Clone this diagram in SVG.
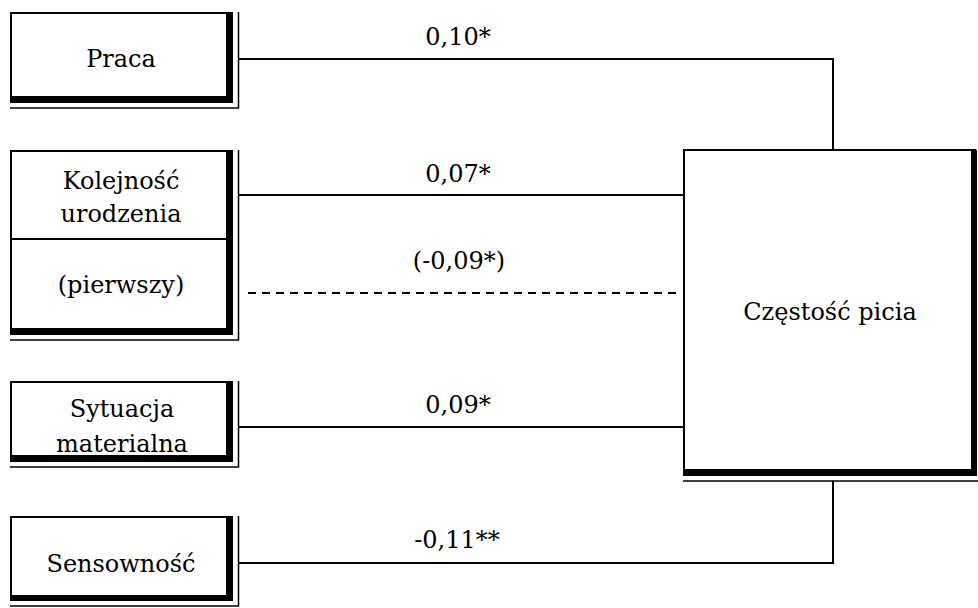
<svg xmlns="http://www.w3.org/2000/svg" width="978" height="608" viewBox="0 0 978 608">
<style>
.frame{fill:#fff;stroke:#000;stroke-width:2}
.shadow{fill:#000}
.outer{fill:none;stroke:#000;stroke-width:1.5}
.conn{fill:none;stroke:#000;stroke-width:2}
.dash{fill:none;stroke:#000;stroke-width:2;stroke-dasharray:8 6}
.t{font-family:'DejaVu Serif',serif;font-size:24px;fill:#000;text-anchor:middle}
</style>
<rect width="978" height="608" fill="#fff"/>
<g id="connectors">
<polyline class="conn" points="239,59 833,59 833,150"/>
<line class="conn" x1="239" y1="195" x2="684" y2="195"/>
<line class="dash" x1="248" y1="293" x2="678" y2="293"/>
<line class="conn" x1="239" y1="427" x2="684" y2="427"/>
<polyline class="conn" points="239,563 833,563 833,481"/>
<text class="t" x="458" y="45">0,10*</text>
<text class="t" x="458" y="182">0,07*</text>
<text class="t" x="459" y="269">(-0,09*)</text>
<text class="t" x="458" y="413">0,09*</text>
<text class="t" x="457" y="548">-0,11**</text>
</g>
<g id="praca">
<rect class="frame" x="11" y="13" width="221" height="89"/>
<rect class="shadow" x="226" y="13" width="7" height="90"/>
<rect class="shadow" x="11" y="96" width="222" height="7"/>
<polyline class="outer" points="238.5,12 238.5,108 10,108"/>
<text class="t" x="121" y="67">Praca</text>
</g>
<g id="kolejnosc">
<rect class="frame" x="11" y="151" width="221" height="183"/>
<rect class="shadow" x="226" y="151" width="7" height="184"/>
<rect class="shadow" x="11" y="328" width="222" height="7"/>
<line class="conn" x1="11" y1="239" x2="226" y2="239"/>
<polyline class="outer" points="238.5,150 238.5,340 10,340"/>
<text class="t" x="121" y="189">Kolejność</text>
<text class="t" x="121" y="222">urodzenia</text>
<text class="t" x="121" y="293">(pierwszy)</text>
</g>
<g id="sytuacja">
<rect class="frame" x="11" y="382" width="221" height="79"/>
<rect class="shadow" x="226" y="382" width="7" height="80"/>
<rect class="shadow" x="11" y="455" width="222" height="7"/>
<polyline class="outer" points="238.5,381 238.5,467 10,467"/>
<text class="t" x="122" y="417">Sytuacja</text>
<text class="t" x="122" y="452">materialna</text>
</g>
<g id="sensownosc">
<rect class="frame" x="11" y="517" width="221" height="83"/>
<rect class="shadow" x="226" y="517" width="7" height="84"/>
<rect class="shadow" x="11" y="595" width="222" height="6"/>
<polyline class="outer" points="238.5,516 238.5,606 10,606"/>
<text class="t" x="121" y="572">Sensowność</text>
</g>
<g id="czestosc">
<rect class="frame" x="684" y="150" width="291" height="325"/>
<rect class="shadow" x="971" y="150" width="6" height="326"/>
<rect class="shadow" x="684" y="469" width="293" height="7"/>
<line class="outer" x1="683" y1="481" x2="978" y2="481"/>
<text class="t" x="830" y="320">Częstość picia</text>
</g>
</svg>
